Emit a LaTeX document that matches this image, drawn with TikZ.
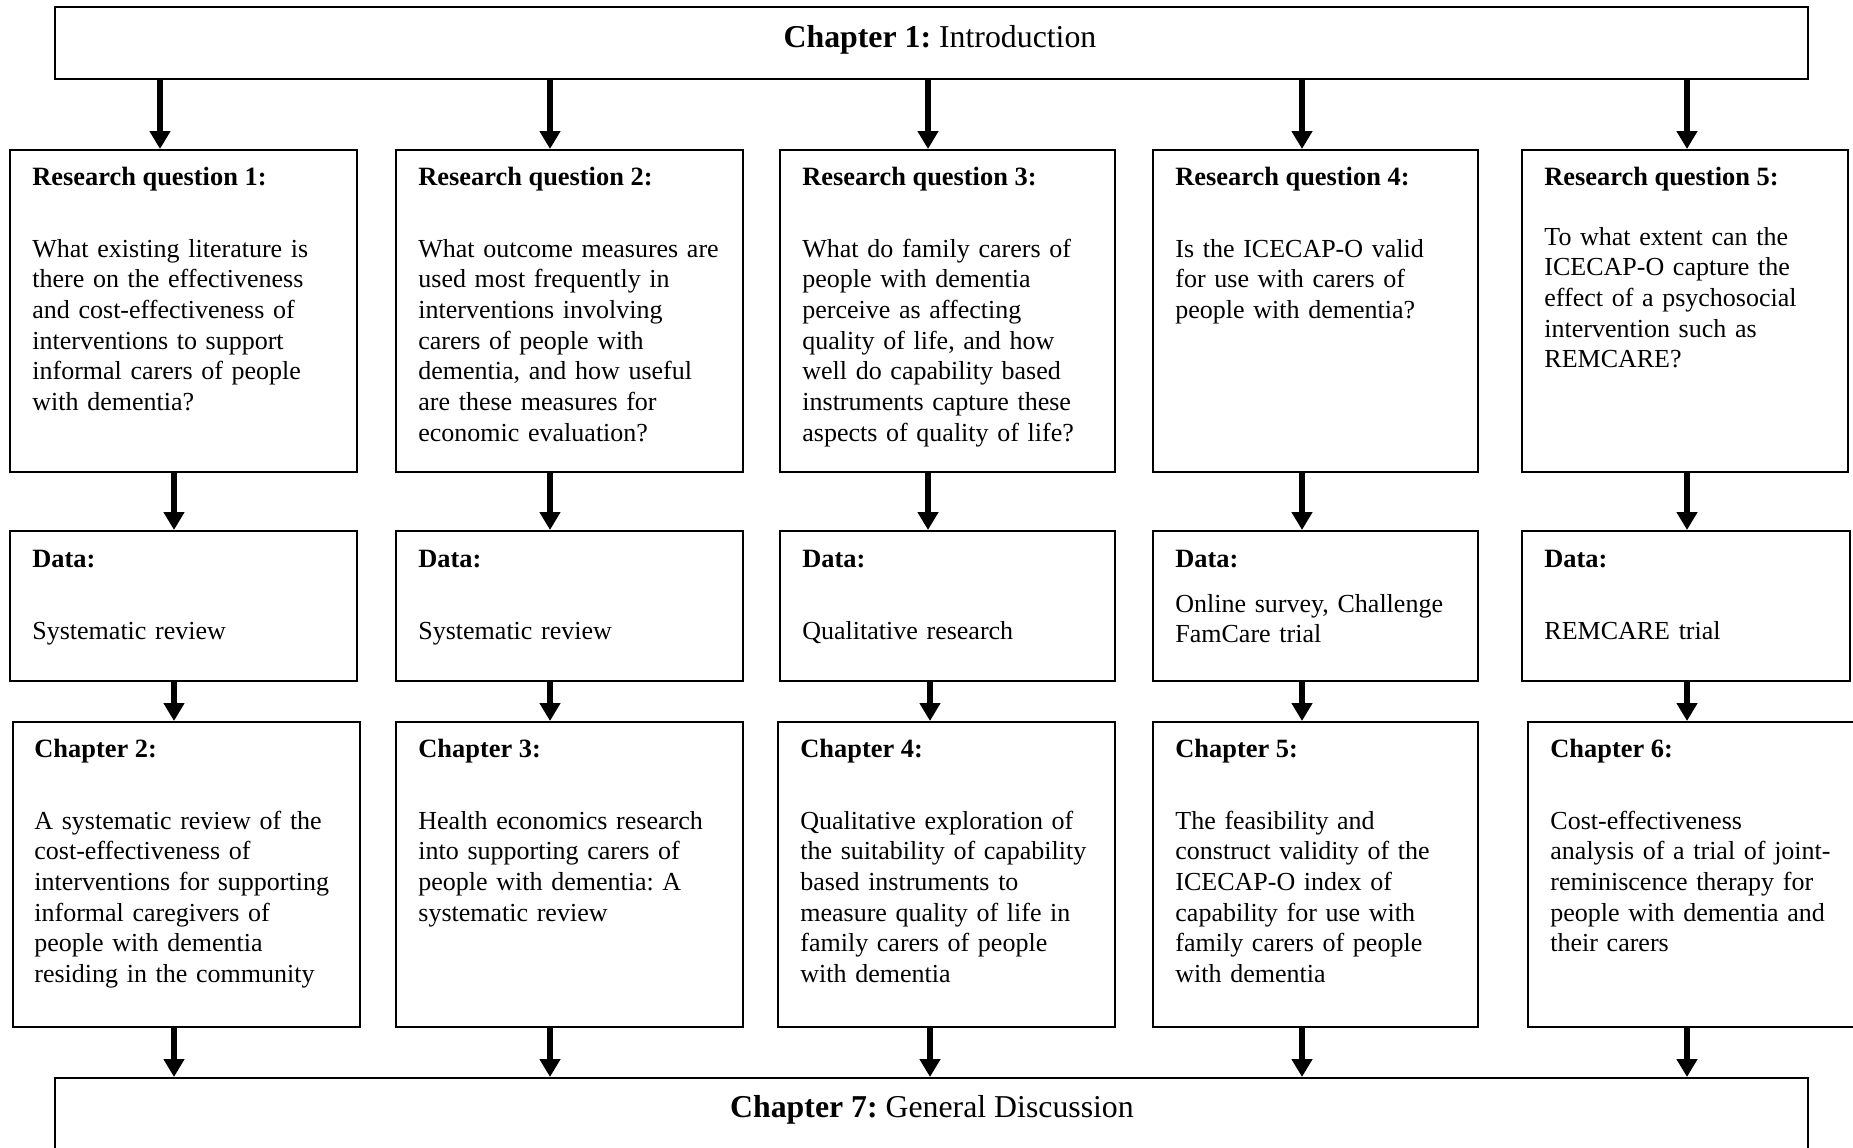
\documentclass[tikz,border=0pt]{standalone}
\usepackage{fontspec}
\setmainfont{Liberation Serif}
\usetikzlibrary{arrows.meta,fit}
\frenchspacing
\newcommand\bodysize{\fontsize{13.0pt}{15.35pt}\selectfont}
\newcommand\ttlsize{\fontsize{13.2pt}{15.35pt}\selectfont}
\newcommand\bigsize{\fontsize{15.9pt}{18pt}\selectfont}
\begin{document}
\begin{tikzpicture}[x=0.5pt,y=-0.5pt,
  box/.style={draw,line width=1pt,inner sep=0pt},
  arr/.style={line width=3.2pt,-{Triangle[width=10pt,length=9pt]}},
  ttl/.style={anchor=base west,inner sep=0pt,font=\ttlsize\bfseries},
  txt/.style={anchor=base west,inner sep=0pt,text width=200pt,align=left,font=\bodysize},
  big/.style={anchor=base,inner sep=0pt,font=\bigsize}]
\useasboundingbox (0,0) rectangle (1853,1147);
\clip (0,0) rectangle (1853,1147);
% boxes
\node[box,fit={(55,7)(1808,79)}] (ch1) {};
\node[box,fit={(10,150)(357,472)}] (rq1) {};
\node[box,fit={(396,150)(743,472)}] (rq2) {};
\node[box,fit={(780,150)(1115,472)}] (rq3) {};
\node[box,fit={(1153,150)(1478,472)}] (rq4) {};
\node[box,fit={(1522,150)(1848,472)}] (rq5) {};
\node[box,fit={(10,531)(357,681)}] (d1) {};
\node[box,fit={(396,531)(743,681)}] (d2) {};
\node[box,fit={(780,531)(1115,681)}] (d3) {};
\node[box,fit={(1153,531)(1478,681)}] (d4) {};
\node[box,fit={(1522,531)(1850,681)}] (d5) {};
\node[box,fit={(13,722)(360,1027)}] (c2) {};
\node[box,fit={(396,722)(743,1027)}] (c3) {};
\node[box,fit={(778,722)(1115,1027)}] (c4) {};
\node[box,fit={(1153,722)(1478,1027)}] (c5) {};
\node[box,fit={(1528,722)(1880,1027)}] (c6) {};
\node[box,fit={(55,1078)(1808,1190)}] (c7) {};
% texts
\node[big] (ch1t) at (940,47) {\textbf{Chapter 1:} Introduction};
\node[big] (c7t) at (932,1117) {\textbf{Chapter 7:} General Discussion};

\node[ttl] (rq1h) at (32,185) {Research question 1:};
\node[ttl] (rq2h) at (418,185) {Research question 2:};
\node[ttl] (rq3h) at (802,185) {Research question 3:};
\node[ttl] (rq4h) at (1175,185) {Research question 4:};
\node[ttl] (rq5h) at (1544,185) {Research question 5:};

\node[txt] (rq1b) at (32,257) {What existing literature is\\there on the effectiveness\\and cost-effectiveness of\\interventions to support\\informal carers of people\\with dementia?};
\node[txt] (rq2b) at (418,257) {What outcome measures are\\used most frequently in\\interventions involving\\carers of people with\\dementia, and how useful\\are these measures for\\economic evaluation?};
\node[txt] (rq3b) at (802,257) {What do family carers of\\people with dementia\\perceive as affecting\\quality of life, and how\\well do capability based\\instruments capture these\\aspects of quality of life?};
\node[txt] (rq4b) at (1175,257) {Is the ICECAP-O valid\\for use with carers of\\people with dementia?};
\node[txt] (rq5b) at (1544,245) {To what extent can the\\ICECAP-O capture the\\effect of a psychosocial\\intervention such as\\REMCARE?};

\node[ttl] (d1h) at (32,567) {Data:};
\node[ttl] (d2h) at (418,567) {Data:};
\node[ttl] (d3h) at (802,567) {Data:};
\node[ttl] (d4h) at (1175,567) {Data:};
\node[ttl] (d5h) at (1544,567) {Data:};
\node[txt] (d1b) at (32,639) {Systematic review};
\node[txt] (d2b) at (418,639) {Systematic review};
\node[txt] (d3b) at (802,639) {Qualitative research};
\node[txt] (d4b) at (1175,612) {Online survey, Challenge\\FamCare trial};
\node[txt] (d5b) at (1544,639) {REMCARE trial};

\node[ttl] (c2h) at (34,757) {Chapter 2:};
\node[ttl] (c3h) at (418,757) {Chapter 3:};
\node[ttl] (c4h) at (800,757) {Chapter 4:};
\node[ttl] (c5h) at (1175,757) {Chapter 5:};
\node[ttl] (c6h) at (1550,757) {Chapter 6:};
\node[txt] (c2b) at (34,829) {A systematic review of the\\cost-effectiveness of\\interventions for supporting\\informal caregivers of\\people with dementia\\residing in the community};
\node[txt] (c3b) at (418,829) {Health economics research\\into supporting carers of\\people with dementia: A\\systematic review};
\node[txt] (c4b) at (800,829) {Qualitative exploration of\\the suitability of capability\\based instruments to\\measure quality of life in\\family carers of people\\with dementia};
\node[txt] (c5b) at (1175,829) {The feasibility and\\construct validity of the\\ICECAP-O index of\\capability for use with\\family carers of people\\with dementia};
\node[txt] (c6b) at (1550,829) {Cost-effectiveness\\analysis of a trial of joint-\\reminiscence therapy for\\people with dementia and\\their carers};
% arrow columns
\coordinate (a1) at (160,0);
\coordinate (b1) at (174,0);
\coordinate (a2) at (550,0);
\coordinate (a3) at (928,0);
\coordinate (b3) at (930,0);
\coordinate (a4) at (1302,0);
\coordinate (a5) at (1687,0);
\draw[arr] (ch1.south -| a1) -- (rq1.north -| a1);
\draw[arr] (ch1.south -| a2) -- (rq2.north -| a2);
\draw[arr] (ch1.south -| a3) -- (rq3.north -| a3);
\draw[arr] (ch1.south -| a4) -- (rq4.north -| a4);
\draw[arr] (ch1.south -| a5) -- (rq5.north -| a5);
\draw[arr] (rq1.south -| b1) -- (d1.north -| b1);
\draw[arr] (rq2.south -| a2) -- (d2.north -| a2);
\draw[arr] (rq3.south -| a3) -- (d3.north -| a3);
\draw[arr] (rq4.south -| a4) -- (d4.north -| a4);
\draw[arr] (rq5.south -| a5) -- (d5.north -| a5);
\draw[arr] (d1.south -| b1) -- (c2.north -| b1);
\draw[arr] (d2.south -| a2) -- (c3.north -| a2);
\draw[arr] (d3.south -| b3) -- (c4.north -| b3);
\draw[arr] (d4.south -| a4) -- (c5.north -| a4);
\draw[arr] (d5.south -| a5) -- (c6.north -| a5);
\draw[arr] (c2.south -| b1) -- (c7.north -| b1);
\draw[arr] (c3.south -| a2) -- (c7.north -| a2);
\draw[arr] (c4.south -| b3) -- (c7.north -| b3);
\draw[arr] (c5.south -| a4) -- (c7.north -| a4);
\draw[arr] (c6.south -| a5) -- (c7.north -| a5);
\end{tikzpicture}
\end{document}
